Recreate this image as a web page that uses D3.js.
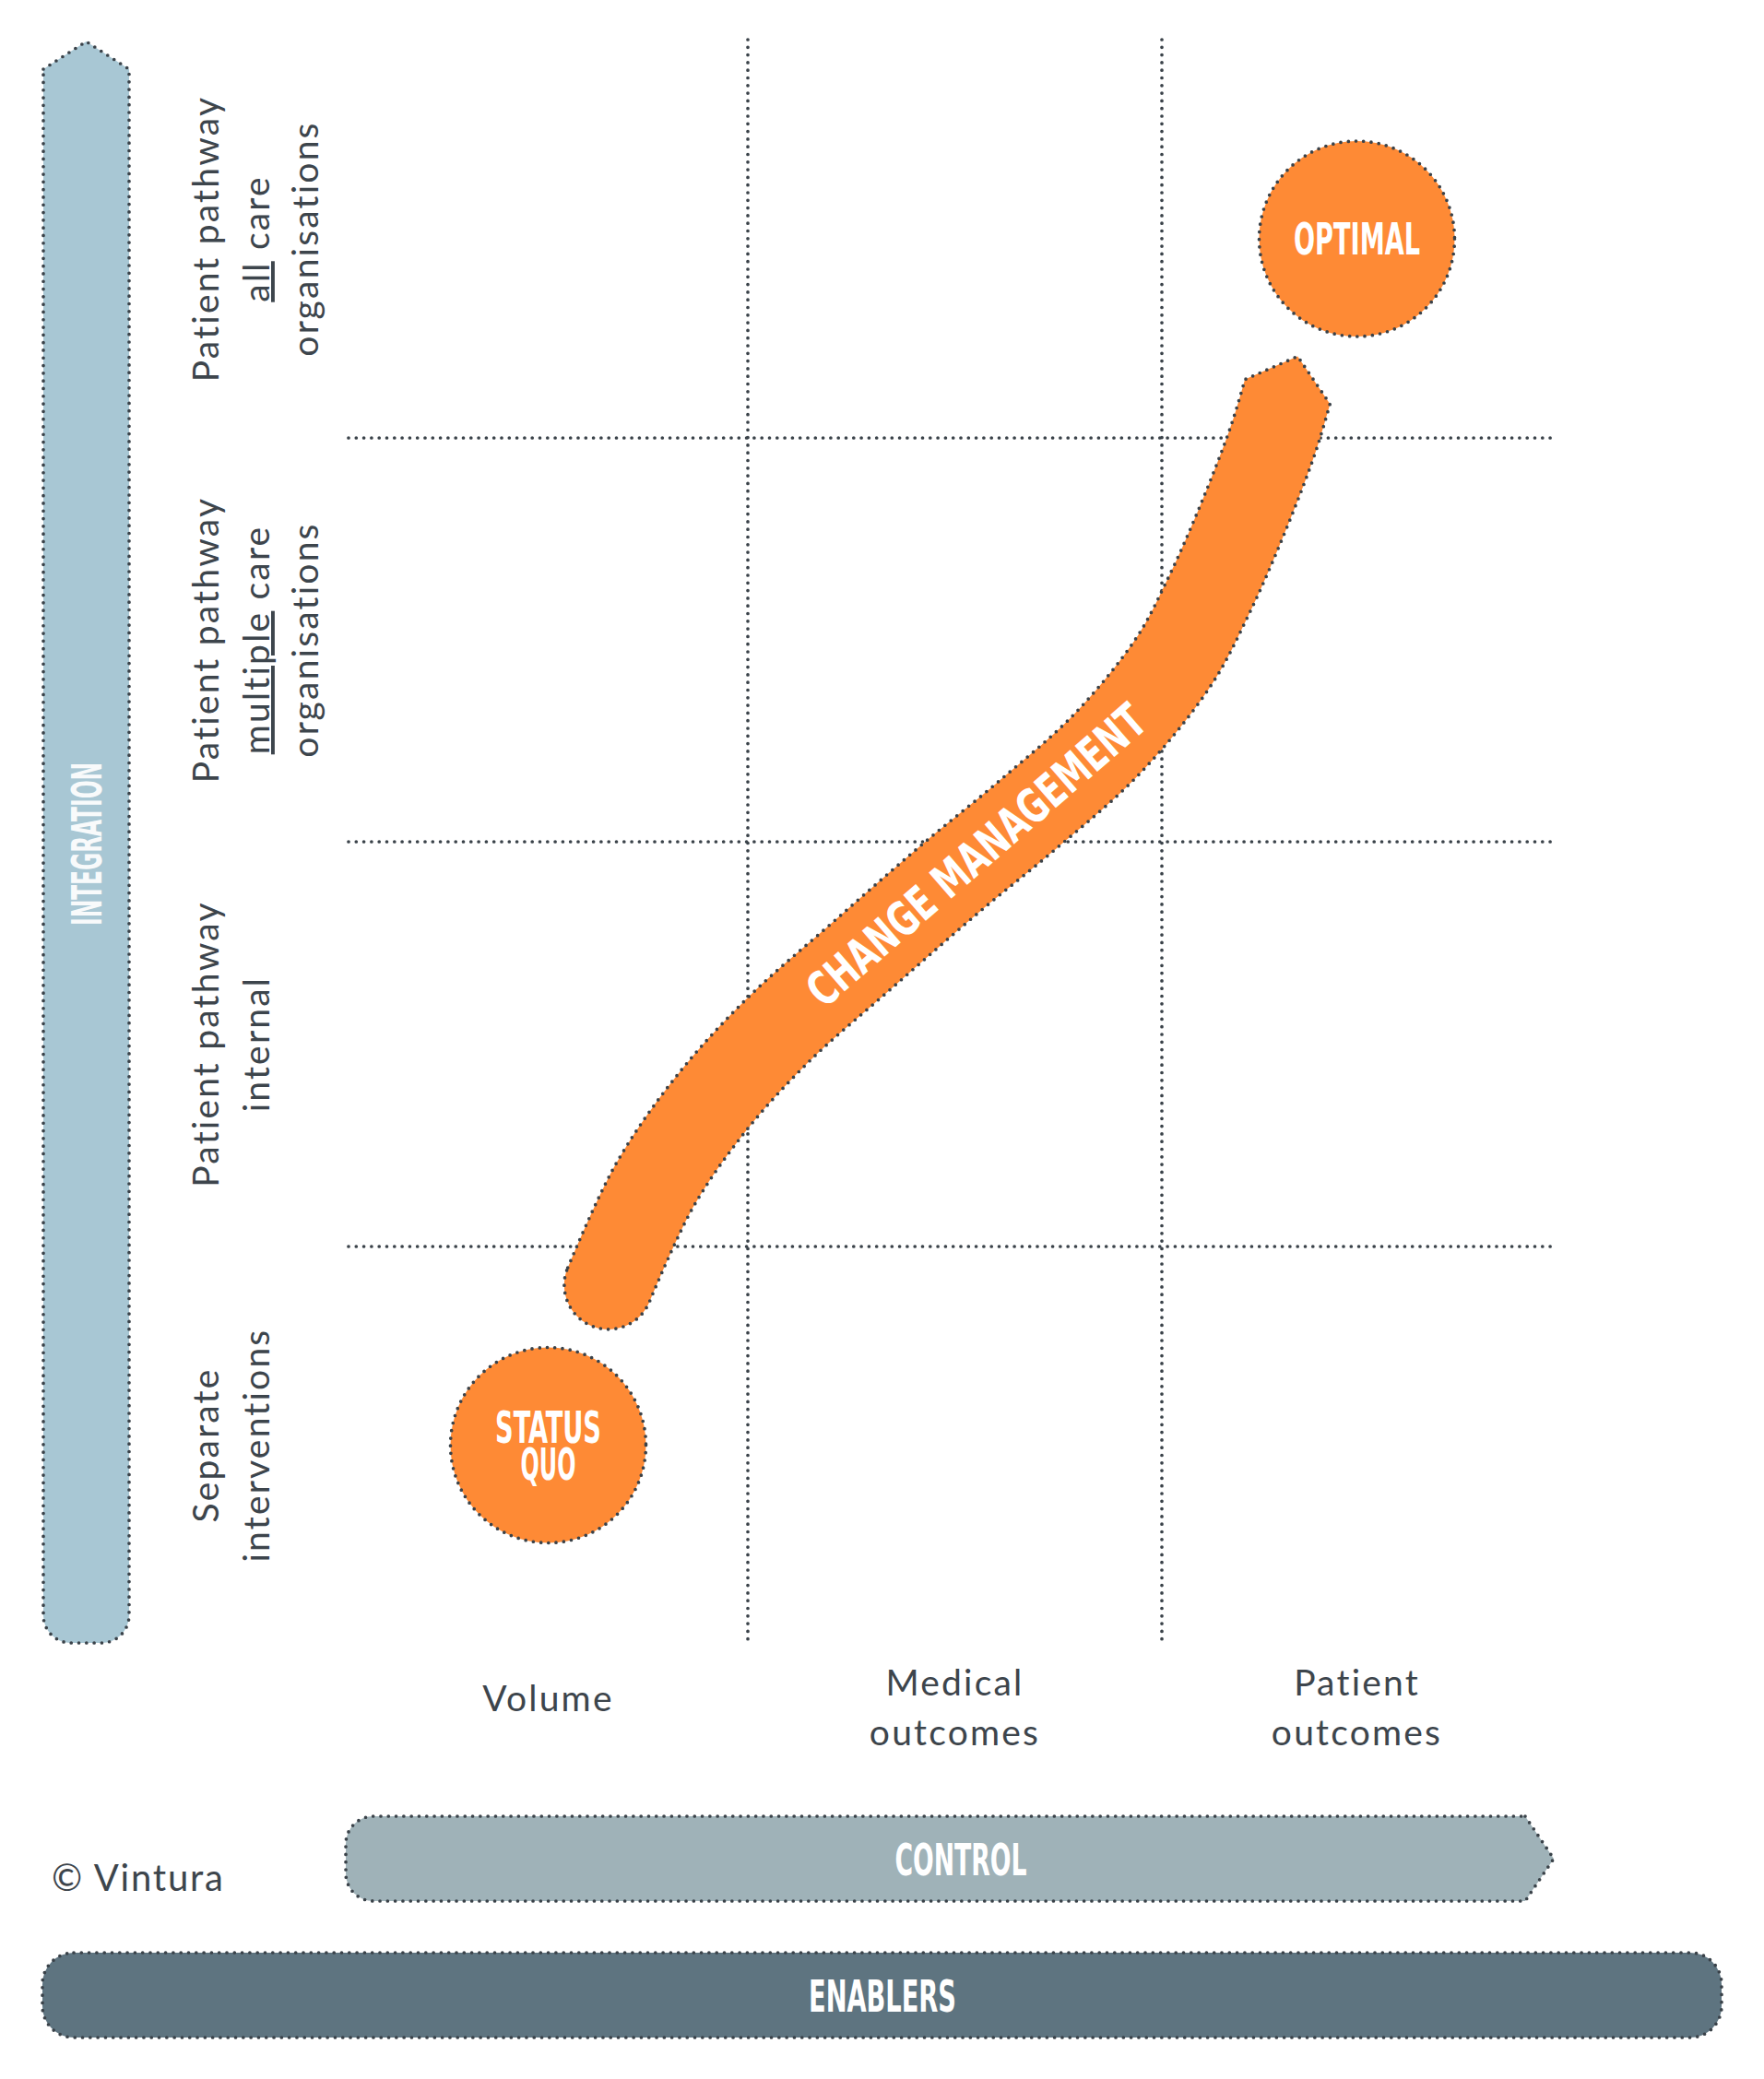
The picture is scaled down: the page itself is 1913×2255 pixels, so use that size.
<!DOCTYPE html>
<html>
<head>
<meta charset="utf-8">
<script src="https://cdn.jsdelivr.net/npm/d3@7"></script>
<style>
  html, body { margin: 0; padding: 0; background: #ffffff; }
  svg { display: block; }
</style>
</head>
<body>
<div id="chart"></div>
<script>
// ---------------- DATA ----------------
// Columns (x axis categories, left → right)
const columns = [["Volume"], ["Medical", "outcomes"], ["Patient", "outcomes"]];
// Rows (y axis categories, bottom → top); each row = lines; each line = spans (u = underlined)
const rows = [
  [[{ t: "Separate" }], [{ t: "interventions" }]],
  [[{ t: "Patient pathway" }], [{ t: "internal" }]],
  [[{ t: "Patient pathway" }], [{ t: "multiple", u: true }, { t: " care" }], [{ t: "organisations" }]],
  [[{ t: "Patient pathway" }], [{ t: "all", u: true }, { t: " care" }], [{ t: "organisations" }]]
];
// Milestones in (column, row) units
const milestones = [
  { label: ["STATUS", "QUO"], col: 0.5, row: 0.5, widths: [115, 60] },
  { label: ["OPTIMAL"], col: 2.5, row: 3.5, widths: [137] }
];
// Change-management path centreline in (column, row) units
const changePathCol = [0.651, 0.766, 0.908, 1.073, 1.269, 1.497, 1.675, 1.869, 2.031, 2.118, 2.199, 2.284, 2.322];
const changePathRow = [0.903, 1.150, 1.353, 1.535, 1.713, 1.916, 2.066, 2.244, 2.447, 2.605, 2.781, 2.993, 3.116];
const changeLabel = { text: "CHANGE MANAGEMENT", col: 1.552, row: 1.966, angle: -41, width: 468 };
// Frame labels
const axisLabels = { y: "INTEGRATION", x: "CONTROL", base: "ENABLERS", credit: "\u00A9 Vintura" };

// ---------------- LAYOUT ----------------
const W = 1913, H = 2255;
const colBounds = [378, 811, 1260, 1683];
const rowBounds = [1783, 1352, 913, 475, 43];
const C = {
  orange: "#fe8a35", dot: "#3a4249", text: "#3d454c",
  blue: "#a8c7d4", control: "#9fb2b8", enablers: "#5e7480"
};
const condensed = "'Liberation Sans Narrow','DejaVu Sans Condensed','Arial Narrow',sans-serif";
const sans = "Lato,'Open Sans','Noto Sans',sans-serif";
const labelFont = { size: 39, weight: 400, spacing: 2.2 };

const x = d3.scaleLinear().domain([0, 1, 2, 3]).range(colBounds);
const y = d3.scaleLinear().domain([0, 1, 2, 3, 4]).range(rowBounds);

const svg = d3.select("#chart").append("svg").attr("width", W).attr("height", H);

function dotted(sel) {
  return sel.attr("stroke", C.dot).attr("stroke-width", 3.7)
    .attr("stroke-linecap", "round").attr("stroke-dasharray", "0 8.3");
}

// ---------------- GRID ----------------
const grid = svg.append("g");
grid.selectAll("line.h").data([1, 2, 3]).join("line").attr("class", "h")
  .attr("x1", x(0)).attr("x2", x(3)).attr("y1", d => y(d)).attr("y2", d => y(d))
  .call(dotted);
grid.selectAll("line.v").data([1, 2]).join("line").attr("class", "v")
  .attr("x1", d => x(d)).attr("x2", d => x(d)).attr("y1", y(4)).attr("y2", y(0))
  .call(dotted);

// ---------------- INTEGRATION ARROW (left) ----------------
{
  const l = 47, r = 140, top = 45, sh = 75, bot = 1782, rad = 30, mid = (l + r) / 2;
  const p = d3.path();
  p.moveTo(l, sh); p.lineTo(mid, top); p.lineTo(r, sh);
  p.arcTo(r, bot, mid, bot, rad); p.arcTo(l, bot, l, sh, rad); p.closePath();
  svg.append("path").attr("d", p.toString()).attr("fill", C.blue).call(dotted);
  svg.append("text")
    .attr("transform", `translate(${mid + 1},${(top + bot) / 2 + 2}) rotate(-90)`)
    .attr("text-anchor", "middle").attr("dominant-baseline", "central")
    .attr("font-family", condensed).attr("font-weight", "bold").attr("font-size", 45)
    .attr("fill", "#ffffff").attr("opacity", 0.92)
    .attr("textLength", 177).attr("lengthAdjust", "spacingAndGlyphs")
    .text(axisLabels.y);
}

// ---------------- ROW LABELS ----------------
const rowBaselines = [237, 292, 345];
rows.forEach((lines, i) => {
  const cy = (y(i) + y(i + 1)) / 2;
  lines.forEach((spans, j) => {
    const t = svg.append("text")
      .attr("transform", `translate(${rowBaselines[j]},${cy}) rotate(-90)`)
      .attr("text-anchor", "middle")
      .attr("font-family", sans).attr("font-weight", labelFont.weight).attr("font-size", labelFont.size)
      .attr("letter-spacing", labelFont.spacing).attr("fill", C.text);
    spans.forEach(s => {
      t.append("tspan").text(s.t).style("text-decoration", s.u ? "underline" : "none");
    });
  });
});

// ---------------- COLUMN LABELS ----------------
columns.forEach((lines, i) => {
  const cx = (x(i) + x(i + 1)) / 2;
  const y0 = lines.length === 1 ? 1856 : 1839;
  lines.forEach((ln, j) => {
    svg.append("text").attr("x", cx).attr("y", y0 + j * 54)
      .attr("text-anchor", "middle")
      .attr("font-family", sans).attr("font-weight", labelFont.weight).attr("font-size", labelFont.size)
      .attr("letter-spacing", labelFont.spacing).attr("fill", C.text).text(ln);
  });
});

// ---------------- CHANGE MANAGEMENT BAND ----------------
{
  const pts = changePathCol.map((c, i) => [x(c), y(changePathRow[i])]);
  const centre = d3.line().curve(d3.curveCatmullRom.alpha(0.5))(pts);
  const tmp = svg.append("path").attr("d", centre).attr("fill", "none");
  const node = tmp.node();
  const L = node.getTotalLength();
  const N = 300, hw = 48, tipLen = 40, win = 6;
  const samp = d3.range(N + 1).map(i => node.getPointAtLength(L * i / N));
  const tang = samp.map((p, i) => {
    const a = samp[Math.max(0, i - win)], b = samp[Math.min(N, i + win)];
    const dx = b.x - a.x, dy = b.y - a.y, m = Math.hypot(dx, dy);
    return [dx / m, dy / m];
  });
  tmp.remove();
  const upper = samp.map((p, i) => [p.x + tang[i][1] * hw, p.y - tang[i][0] * hw]);
  const lower = samp.map((p, i) => [p.x - tang[i][1] * hw, p.y + tang[i][0] * hw]);
  const pe = samp[N], te = tang[N];
  const tip = [pe.x + te[0] * tipLen, pe.y + te[1] * tipLen];
  const p0 = samp[0], t0 = tang[0], n0 = [t0[1], -t0[0]];
  const cap = d3.range(1, 40).map(k => {
    const th = Math.PI * k / 40;
    return [p0.x + hw * (-n0[0] * Math.cos(th) - t0[0] * Math.sin(th)),
            p0.y + hw * (-n0[1] * Math.cos(th) - t0[1] * Math.sin(th))];
  });
  const outline = [...upper, tip, ...lower.slice().reverse(), ...cap];
  svg.append("path").attr("d", d3.line()(outline) + "Z")
    .attr("fill", C.orange).attr("stroke-linejoin", "round").call(dotted);

  svg.append("text")
    .attr("transform", `translate(${x(changeLabel.col)},${y(changeLabel.row)}) rotate(${changeLabel.angle})`)
    .attr("text-anchor", "middle").attr("dominant-baseline", "central")
    .attr("font-family", condensed).attr("font-weight", "bold").attr("font-size", 51)
    .attr("fill", "#ffffff")
    .attr("textLength", changeLabel.width).attr("lengthAdjust", "spacingAndGlyphs")
    .text(changeLabel.text);
}

// ---------------- MILESTONE CIRCLES ----------------
milestones.forEach(m => {
  const cx = (x(Math.floor(m.col)) + x(Math.ceil(m.col))) / 2;
  const cy = (y(Math.floor(m.row)) + y(Math.ceil(m.row))) / 2;
  svg.append("circle").attr("cx", cx).attr("cy", cy).attr("r", 106)
    .attr("fill", C.orange).call(dotted);
  const n = m.label.length;
  m.label.forEach((ln, j) => {
    svg.append("text").attr("x", cx).attr("y", cy + (j - (n - 1) / 2) * 40)
      .attr("text-anchor", "middle").attr("dominant-baseline", "central")
      .attr("font-family", condensed).attr("font-weight", "bold").attr("font-size", 48)
      .attr("fill", "#ffffff")
      .attr("textLength", m.widths[j]).attr("lengthAdjust", "spacingAndGlyphs")
      .text(ln);
  });
});

// ---------------- CONTROL ARROW ----------------
{
  const l = 375, sh = 1654, tipX = 1685, top = 1970, bot = 2062, rad = 30, mid = (top + bot) / 2;
  const p = d3.path();
  p.moveTo(sh, top); p.lineTo(tipX, mid); p.lineTo(sh, bot);
  p.arcTo(l, bot, l, top, rad); p.arcTo(l, top, sh, top, rad); p.closePath();
  svg.append("path").attr("d", p.toString()).attr("fill", C.control).call(dotted);
  svg.append("text").attr("x", 1042).attr("y", mid + 1)
    .attr("text-anchor", "middle").attr("dominant-baseline", "central")
    .attr("font-family", condensed).attr("font-weight", "bold").attr("font-size", 48)
    .attr("fill", "#ffffff").attr("textLength", 143).attr("lengthAdjust", "spacingAndGlyphs")
    .text(axisLabels.x);
}

// ---------------- ENABLERS BAR ----------------
{
  const l = 46, r = 1867, top = 2118, bot = 2210;
  svg.append("rect").attr("x", l).attr("y", top).attr("width", r - l).attr("height", bot - top)
    .attr("rx", 34).attr("fill", C.enablers).call(dotted);
  svg.append("text").attr("x", 957).attr("y", (top + bot) / 2 + 1)
    .attr("text-anchor", "middle").attr("dominant-baseline", "central")
    .attr("font-family", condensed).attr("font-weight", "bold").attr("font-size", 48)
    .attr("fill", "#ffffff").attr("textLength", 160).attr("lengthAdjust", "spacingAndGlyphs")
    .text(axisLabels.base);
}

// ---------------- CREDIT ----------------
svg.append("text").attr("x", 56).attr("y", 2051)
  .attr("font-family", sans).attr("font-weight", labelFont.weight).attr("font-size", 40)
  .attr("letter-spacing", 1.8).attr("fill", C.text).text(axisLabels.credit);
</script>
</body>
</html>
